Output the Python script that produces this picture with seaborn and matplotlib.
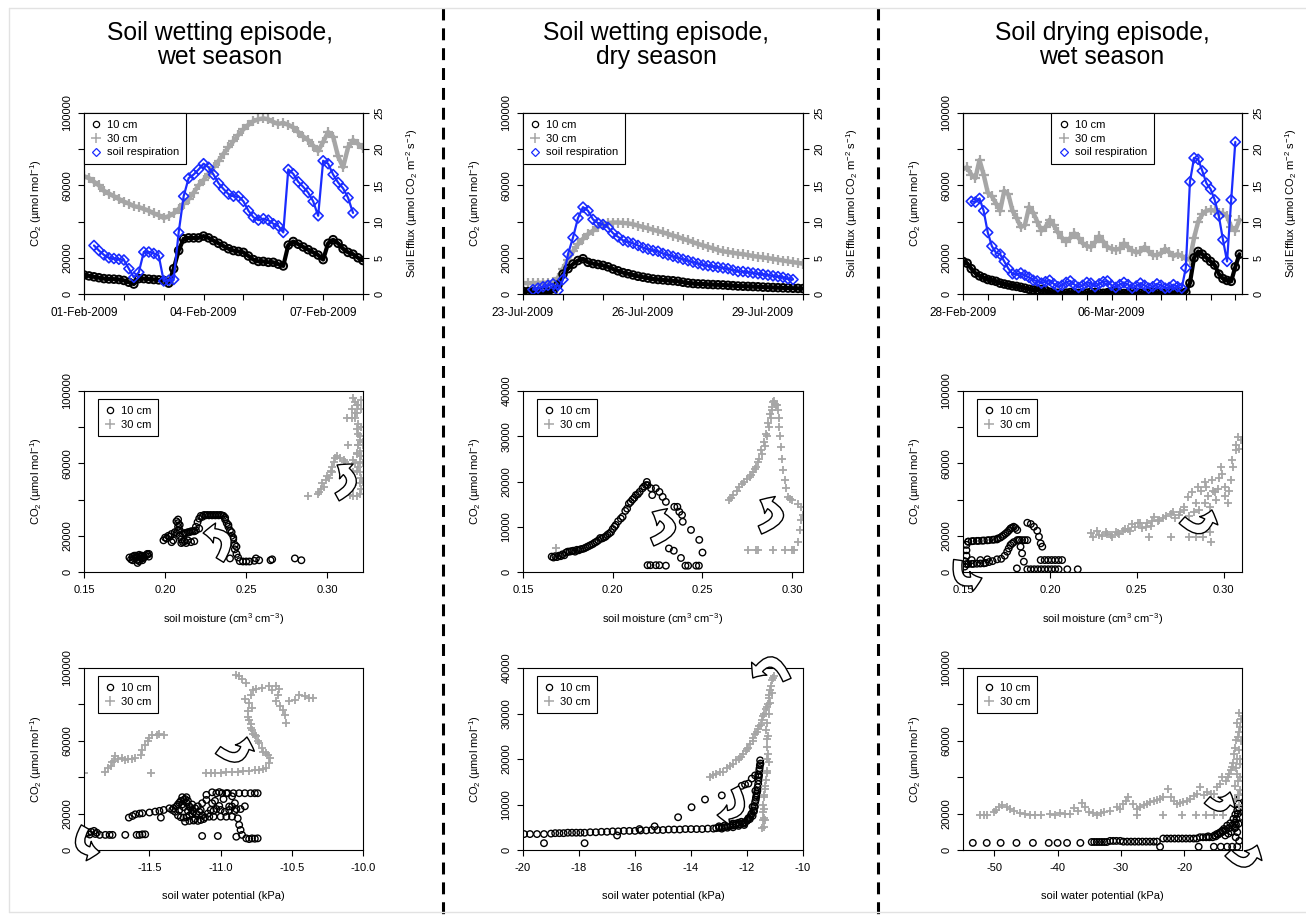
import numpy as np
import pandas as pd
import matplotlib
matplotlib.use("Agg")
import matplotlib.pyplot as plt
import seaborn as sns
from matplotlib.patches import FancyArrowPatch
from matplotlib.lines import Line2D

nan = np.nan

# ---------------- DATA (CO2 in thousands of umol/mol) ----------------
# Top row: time series (3-hourly for left/middle, 4-hourly for right)
tl_start = "2009-02-01"
tl_c10_k = [10.5,10,9.5,9,8.5,8.3,8.2,8, 7.5,6.5,5.5,8.5,8.5,8.2,8,7.8,
            7.5,6,14,24,30.5,31,31,31, 32,31,29.5,28,26.5,25,24,23.5,
            23,21,19,18,18,17.5,17.5,16.5, 15.5,27,29,27.5,26,24.5,23,21.5,
            19,28,30,28,25,23,22,20, 18.5]
tl_c30_k = [65,64,62,60,57,55.5,54,52.5, 51,50,48.5,48,47,46,44.5,43.5,
            42,43,44.5,47,50,52.5,56,60, 63,66.5,70,73.5,77.5,81,84.5,88,
            91,93.5,95.5,96.5,97,96.5,95,94, 94.5,93.5,92,89.5,87,85,82,79,
            84,89.5,87,76,70,81,85,83, 80.5]
tl_resp = [nan,nan,6.7,6.0,5.4,5.0,4.9,4.8, 4.7,3.5,2.3,3.0,5.8,5.8,5.6,5.3,
           1.8,1.9,2.0,8.5,13.5,16,16.5,17.2, 18,17.5,16.5,15.3,14.5,13.8,13.5,13.5,
           12.8,11.5,10.6,10.2,10.4,10.2,9.7,9.4, 8.5,17.2,16.6,15.5,14.8,14,12.8,10.8,
           18.4,18,16.5,15.4,14.6,13.3,11.2,nan, nan]

tm_start = "2009-07-23"
tm_c10_k = [1.5,1.3,1.2,1.2,1.0,1.1,1.5,5, 11,14,16.5,18.5,19.5,17.5,16.8,16.3,
            15.8,15,13.8,12.8,11.8,11.2,10.5,9.8, 9.3,8.8,8.3,8,7.8,7.5,7.3,7,
            6.5,6.1,5.8,5.6,5.5,5.3,5.2,5.1, 5,4.8,4.6,4.4,4.3,4.2,4.1,4,
            3.8,3.7,3.6,3.5,3.4,3.3,3.2,3.1, 3.0]
tm_c30_k = [6,6,6,6.2,6.2,6.3,6.5,9, 14,19,23.5,27.5,30.5,33,35,37,
            38.5,39.2,39.5,39.5,39.3,39,38.5,37.8, 37,36.3,35.5,34.8,34,33.2,32.3,31.5,
            30.5,29.6,28.6,27.7,26.8,26,25.2,24.3, 23.6,23.2,22.8,22.3,22,21.5,21,20.6,
            20.2,19.8,19.4,19,18.5,18,17.6,17.2, 16.8]
tm_resp = [nan,nan,0.6,0.8,1.0,1.2,1.4,0.5, 2.0,5.5,7.8,10.5,12.0,11.5,10.3,9.8,
           9.6,9.2,8.4,7.9,7.4,7.2,7.0,6.7, 6.4,6.2,6.0,5.9,5.6,5.4,5.2,5.0,
           4.8,4.6,4.4,4.2,4.0,3.9,3.8,3.7, 3.6,3.5,3.3,3.1,3.1,3.0,2.9,2.8,
           2.7,2.6,2.5,2.4,2.3,2.1,2.0,nan, nan]

tr_start = "2009-02-28"
tr_c10_k = [18,17,14,11.5,10,9,8,7.5, 7,6,5.5,5,4.5,4.2,3.7,3.2,
            2.6,2.3,2.2,2.5,2.0,1.0,0.7,0.4, 0.3,0.5,0.8,0.6,0.3,0.2,0.5,1.0,
            0.8,0.5,0.4,0.7,1.2,0.9,0.5,0.3, 0.5,1.0,0.7,0.4,0.3,0.6,0.9,0.6,
            0.3,0.3,0.5,0.8,0.6,0.4,1.0,6, 20,23.5,22,20,18,16,11,8.5,
            7.5,7,15,22]
tr_c30_k = [69,70,66,64,74,66,56,54, 50,46,57,55,46,42,37,38,
            48,45,40,35,37,41,38,34, 31,29,31,33.5,31,28,26.5,26,
            28.5,32,29,26,25,24.5,25,28, 26,24,23,23.5,26,23.5,21.5,21.5,
            22.5,25,23,21,22,21,19.5,19, 31,40,44,46,46.5,46,45,44.5,
            43,37,35,41]
tr_resp = [nan,nan,12.8,12.7,13.2,11.5,8.5,6.6, 5.7,5.5,4.5,3.5,2.8,2.7,2.9,2.6,
           2.3,1.9,1.8,1.5,1.7,1.9,1.4,1.0, 1.2,1.6,1.8,1.3,0.9,1.2,1.6,1.5,
           1.0,1.4,1.7,1.8,1.2,0.9,1.3,1.6, 1.3,0.8,1.1,1.5,1.2,0.8,1.0,1.4,
           1.2,0.8,0.9,1.3,1.0,0.8,3.6,15.5, 18.8,18.6,17,15.3,14.5,13,10.8,7.5,
           4.5,13,21,nan]

# Middle row: CO2 vs soil moisture
ml_m10 = [0.178,0.180,0.181,0.182,0.183,0.183,0.184,0.185,0.186,0.187,0.188,0.189,0.190,0.190,0.186,0.184,0.182,0.179,0.180,
          0.181,0.183,0.185,0.187,0.189,0.184,0.186,
          0.199,0.200,0.202,0.204,0.206,0.208,0.208,0.208,0.208,0.209,0.209,0.210,0.210,0.212,0.214,0.216,0.218,0.212,0.214,0.216,0.218,0.205,0.204,
          0.201,0.203,0.207,0.209,0.211,0.213,0.215,0.217,0.219,0.221,0.207,0.211,0.213,
          0.219,0.220,0.221,0.222,0.224,0.225,0.226,0.227,0.228,0.229,0.230,0.231,0.232,0.233,0.234,0.235,0.236,0.237,0.238,0.239,0.240,0.241,0.242,0.243,0.243,0.244,0.245,0.246,0.248,0.250,0.252,0.255,0.256,0.258,0.265,0.266,0.280,0.284,0.240,
          0.223,0.237,0.239,0.241,0.242,0.244]
ml_c10_k = [8.0,8.5,7.5,8.0,6.5,5.0,7.0,8.5,7.5,8.0,9.0,9.5,10.0,8.5,9.0,9.5,9.0,7.0,6.5,
            9,8.5,9,8.5,10,6,6.5,
            17.5,19,20,21,22,23,25,27,29,26,20,18,16,17,17.5,16.5,17,21.5,22,22.5,22.5,17.5,16.5,
            18.5,19.5,21.5,23,21,21.5,22,22.5,23,24,28,16.5,16,
            25,27.5,29.5,31,31.5,31.3,31.5,31.3,31.5,31.3,31.5,31.3,31.5,31.3,31.5,31.3,31,29,27,25,23,20,18,15,12.5,10,8,6,5.8,5.8,5.8,6.2,7.5,6.5,6.5,7.0,7.5,6.5,7.5,
            30.5,30,26,22,19,14]
ml_m30 = [0.316,0.317,0.318,0.318,0.317,0.319,0.318,0.319,0.320,0.319,0.320,0.321,0.320,0.319,0.320,0.321,0.320,0.321,0.320,0.318,0.316,0.314,0.312,0.315,0.313,0.316,0.318,0.322,0.322,0.322,0.321,0.321,
          0.314,0.315,0.316,0.317,0.318,0.319,0.320,0.321,0.315,0.317,0.319,0.321,0.316,0.318,0.320,0.322,
          0.288,0.294,0.296,0.297,0.299,0.300,0.302,0.303,0.304,0.305,0.306,0.308,0.310,0.311,0.295,0.298,0.301,0.303]
ml_c30_k = [96,94,92,88,85,82,79,76,73,70,67,64,61,58,55,52,49,46,43,42,42,42.5,85,90,70,62,66,50,60,70,80,90,
            45,50,55,60,65,70,75,80,85,88,92,95,48,56,64,72,
            42,43,46,49,51,53,56,58,61,63,64,63,62,61,44,47,52,55]

mm_m10 = [0.166,0.168,0.170,0.172,0.174,0.176,0.178,0.180,0.182,0.184,0.186,0.188,0.190,0.192,0.194,0.196,0.198,0.200,0.2017,0.203,0.2055,0.207,0.209,0.211,0.2129,0.215,0.2166,0.2185,0.219,
          0.167,0.169,0.171,0.173,0.175,0.177,0.179,0.181,0.183,0.185,0.187,0.189,0.191,0.193,0.195,0.197,0.199,0.201,0.2045,0.208,0.210,0.212,0.214,0.2175,
          0.2194,0.2213,0.222,0.224,0.226,0.2278,0.2296,0.2343,0.236,0.2371,0.2386,0.239,0.2436,0.2482,0.250,0.2313,0.234,0.238,0.226,0.2194,0.221,0.224,0.2296,0.2405,0.242,0.2465,0.248]
mm_c10_k = [3.4,3.5,3.6,3.9,4.3,4.5,4.7,4.9,5.0,5.2,5.6,6.0,6.5,7.0,7.4,7.8,8.5,9.5,10.4,11.2,12.2,13.5,15.1,16.0,17.0,17.7,18.5,19.2,19.9,
            3.2,3.3,3.5,3.7,4.5,4.6,4.5,4.8,5.1,5.4,5.8,6.2,6.7,7.5,7.6,8.2,8.8,10.0,11.8,14.0,15.5,16.4,17.2,18.9,
            19.2,18.5,17.0,18.5,17.7,16.6,15.5,14.4,14.4,13.3,12.6,11.1,9.3,7.1,4.3,5.2,4.7,3.1,1.5,1.5,1.5,1.5,1.4,1.4,1.4,1.4,1.4]
mm_m30 = [0.265,0.267,0.2706,0.273,0.2762,0.278,0.280,0.2815,0.2827,0.284,0.2855,0.2865,0.2874,0.2885,0.2892,0.290,
          0.266,0.269,0.272,0.275,0.277,0.279,0.281,0.283,0.2848,0.286,0.2868,0.288,0.289,0.2905,0.2915,
          0.291,0.292,0.2925,0.2929,0.2934,0.2938,0.2943,0.2948,0.2957,0.2966,0.2976,0.299,0.300,0.3031,0.305,0.306,0.305,0.3045,0.3031,0.3012,0.300,
          0.2752,0.280,0.281,0.2892,0.296,0.1682]
mm_c30_k = [15.9,17.0,18.8,20.0,21.0,22.0,23.2,25.0,26.9,28.8,30.6,33.0,35.0,36.5,37.6,37.9,
            16.3,17.8,19.4,20.5,21.5,22.8,24.2,26.0,27.8,30.0,32.0,34.0,35.8,37.2,36.8,
            37,35.7,34,32,30,27.6,25,22.5,20.3,18.5,16.6,16.2,15.9,15.1,14.4,12.5,11.5,9.3,6.7,4.9,4.9,
            4.9,4.9,4.9,4.9,4.9,5.2]

mr_m10 = [0.151,0.151,0.152,0.152,0.152,0.153,
          0.155,0.158,0.161,0.164,0.167,0.1696,0.1715,0.1735,0.1755,0.1773,0.1792,0.1812,0.1821,0.1831,0.184,0.185,0.181,
          0.153,0.156,0.159,0.162,0.165,0.168,0.170,0.1725,0.1745,0.1765,0.1782,0.1802,
          0.152,0.155,0.158,0.162,0.165,0.1696,0.172,0.1754,0.1773,0.1792,0.1812,0.184,0.187,
          0.153,0.156,0.160,0.163,0.167,0.174,0.1763,0.1782,0.1826,0.1855,
          0.187,0.189,0.1908,0.1927,0.1937,0.1947,0.1956,0.1947,0.197,0.199,0.201,0.203,0.205,0.207,
          0.187,0.189,0.191,0.193,0.195,0.197,0.199,0.201,0.203,0.205,0.210,0.216,0.155,0.160,0.164]
mr_c10_k = [3,6,9,12,15,16.7,
            17,17.2,17.3,17.5,17.8,18,19,20.4,22,24,25,23.2,17.6,14,10.3,5.7,2,
            16.8,17.1,17.2,17.4,17.6,17.9,18.5,19.7,21.2,23,24.5,24.3,
            4.4,4.5,4.6,4.8,5.5,7,7.3,11.2,14.9,16.5,17.6,17.6,17.6,
            4.4,4.5,4.7,5,6,9,13,15.7,17.6,17.6,
            27.2,26.5,25,22.8,19.5,15.8,14,6.6,6.6,6.6,6.6,6.6,6.6,6.6,
            1.5,1.5,1.5,1.5,1.5,1.5,1.5,1.5,1.5,1.5,1.5,1.5,6.6,6.6,7]
mr_m30 = [0.2236,0.225,0.227,0.230,0.233,0.236,0.238,0.240,0.243,0.246,0.2475,0.2505,0.253,0.256,0.258,0.260,0.262,0.265,0.2697,0.272,0.275,0.2774,0.2794,0.282,0.285,0.289,0.293,
          0.228,0.232,0.235,0.239,0.242,0.245,0.249,0.252,0.255,0.259,0.263,0.267,0.271,0.274,0.277,0.284,0.287,0.290,0.292,0.295,0.297,0.299,0.301,0.303,0.305,0.307,
          0.280,0.283,0.286,0.289,0.291,0.2936,0.2955,0.2966,0.2986,0.3005,0.3024,0.3044,0.3054,0.3073,0.3083,0.3102,0.309,
          0.2928,0.2572,0.2697,0.280,0.284,0.288,0.292]
mr_c30_k = [21.3,19.5,22.5,20,21,19.5,22,21,23.5,22.5,26.5,26.8,24.5,27,25.5,30.5,28,30,32.3,30,33,36,41.5,44,47,49.8,50.7,
            20.5,22,20.5,21.5,22.5,24,25,27,25,28,29,31,33,31.5,34,38,45,47,36,44,52,54,42,45,62,70,
            31,33,34,38,42,45,40,46,58,47,37.9,50.7,58,67.3,74.6,72.8,68,
            16.7,19.1,19.1,19.1,19.1,19.1,22]

# Bottom row: CO2 vs soil water potential (kPa)
bl_p10 = [-11.95,-11.93,-11.91,-11.89,-11.87,-11.92,-11.88,
          -11.85,-11.81,-11.78,-11.76,-11.67,-11.59,-11.57,-11.55,-11.53,-11.13,-11.02,-10.89,-10.82,-10.80,-10.78,-10.76,-10.74,
          -11.645,-11.62,-11.6,-11.57,-11.55,-11.5,-11.46,-11.43,-11.40,-11.36,-11.42,
          -11.33,-11.30,-11.28,-11.27,-11.25,-11.24,-11.22,-11.20,-11.18,-11.16,-11.14,-11.30,-11.28,-11.26,-11.24,-11.22,-11.20,-11.18,-11.16,-11.14,-11.12,-11.25,-11.22,-11.19,-11.32,-11.29,-11.26,-11.23,-11.2,
          -11.34,-11.31,-11.29,-11.27,-11.26,-11.24,-11.23,-11.21,-11.19,-11.17,-11.15,-11.13,-11.11,-11.09,-11.07,-11.05,-11.03,-11.0,-10.97,-10.94,-10.89,-10.86,
          -11.13,-11.10,-11.06,-11.01,-10.96,-10.92,-10.90,-10.94,-11.01,-11.06,-11.10,-11.04,-10.98,
          -11.03,-10.99,-10.95,-10.91,-10.87,-10.83,-10.79,-10.76,-10.74,
          -10.92,-10.90,-10.88,-10.87,-10.86,-10.85,-10.83,
          -11.08,-11.05,-11.0,-10.96,-10.92]
bl_c10_k = [9,9.5,10,10.5,9.5,8.5,8.8,
            8.3,8.3,8.3,8.3,8.3,8.3,8.3,8.6,8.6,7.7,7.7,7.3,6.4,6.0,6.4,6.2,6.4,
            17.8,18.7,19.6,20,20.2,20.6,21.1,21.5,22,22.9,17.8,
            23,25,27,29,28,26,24,22,23,24,22,19,18,17.8,18,19,20,17,16,16.5,17,15.6,16,16.2,21,22,23.5,21.5,25,
            22,24,26,25,27.5,29,27,23,21,20,21,19,18,20,22,21.5,22.5,22,21,22,22.5,22.5,
            25.7,30.3,31.7,31.8,31.2,29.5,25.7,23.9,24.2,25.7,27.5,27,28,
            31.2,31.2,31.2,31.2,31.2,31.2,31.2,31.2,31.2,
            23.9,21.5,17.4,13.8,11,8.3,24,
            18.3,18.3,18.3,18.3,18.3]
bl_p30 = [-11.96,-11.81,-11.79,-11.76,-11.74,-11.72,-11.69,-11.67,-11.65,-11.62,-11.60,-11.56,-11.55,-11.53,-11.51,-11.50,-11.48,-11.45,-11.43,-11.40,-11.49,-11.77,-11.75,
          -11.10,-11.07,-11.04,-11.00,-10.96,-10.92,-10.88,-10.84,-10.80,-10.76,-10.73,-10.70,-10.68,-10.66,-10.65,-10.67,-10.68,-10.71,-10.73,-10.75,-10.77,-10.78,-10.79,-10.80,-10.81,-10.80,-10.79,-10.82,-10.85,-10.87,-10.89,
          -10.77,-10.75,-10.71,-10.66,-10.61,-10.59,-10.60,-10.61,-10.58,-10.55,-10.54,-10.56,-10.52,-10.48,-10.45,-10.41,-10.38,-10.35,
          -10.74,-10.76,-10.79,-10.81,-10.78,-10.83,-10.70,-10.64]
bl_c30_k = [42.2,42.6,45,48.6,51.4,50,50.5,49.5,50,50,50.5,52.3,55,57.8,60,61.5,63.3,63,63.9,63.3,42.2,46,49,
            42.2,42.2,42.2,42.4,42.6,42.8,43,43.3,43.5,43.7,43.7,44.5,45,47.7,50.5,52,53.2,56,58.7,62.4,64,66,69,71.6,76.1,80.7,85.3,91.7,94,95.4,96.3,
            88.1,88.5,89,89.9,89.9,88.5,85.3,81.7,78.9,74.3,69.7,77,81.7,82.6,85.3,84.4,83.5,83.5,
            60,63,67,73,78,83,54,88]

bm_p10 = [-19.96,-19.75,-19.5,-19.25,-19.0,-18.85,-18.7,-18.55,-18.4,-18.25,-18.1,-17.95,-17.8,-17.6,-17.4,-17.2,-17.0,-16.8,-16.6,-16.4,-16.2,-16.0,-15.8,-15.6,-15.4,-15.2,-15.0,-14.8,-14.6,-14.4,-14.2,-14.0,-13.8,-13.6,-13.4,-13.2,
          -19.25,-17.8,-16.64,-15.84,-15.3,-14.46,-13.98,-13.5,-12.9,-12.19,-12.07,-11.95,-11.83,-11.71,
          -13.1,-13.0,-12.9,-12.8,-12.7,-12.6,-12.5,-12.4,-12.3,-12.25,-12.15,-12.07,-11.98,-11.89,-11.83,-11.77,-11.74,-11.71,-11.68,-11.65,-11.62,-11.59,-11.57,-11.56,-11.54,-11.53,-12.5,-12.3,-12.1,-11.95,-11.8,-11.7,-11.6,-11.85,
          -13.0,-12.8,-12.6,-12.4,-12.2,-12.0,-11.9,-11.8,-11.75,-11.72,-11.69,-11.66,-11.63,-11.6,-11.58,-11.55,-11.52,-12.9,-12.7,-12.5,-12.3,-12.1]
bm_c10_k = [3.5,3.5,3.5,3.5,3.6,3.7,3.7,3.7,3.8,3.8,3.8,3.8,3.8,3.9,3.9,4.0,4.0,4.1,4.1,4.2,4.2,4.2,4.3,4.3,4.4,4.4,4.4,4.5,4.5,4.5,4.6,4.6,4.6,4.6,4.7,4.7,
            1.5,1.5,3.2,4.6,5.2,7.2,9.4,11.1,12,14.1,14.4,14.6,15.7,16.4,
            4.8,4.9,5.0,5.0,5.2,5.3,5.4,5.5,5.6,5.7,5.9,6.1,6.6,7.2,8,8.7,9.6,10.5,11.5,12.4,13.8,15.3,16.5,17.5,18.6,19.7,5.8,6.0,5.5,7.0,9.5,13,16.5,7.8,
            5.2,5.4,5.6,5.8,6.2,6.4,6.8,7.5,8.5,9.5,11,12,13,14.5,16,18,19,4.7,4.9,5.0,5.3,5.8]
bm_p30 = [-13.33,-13.1,-12.85,-12.7,-12.49,-12.3,-12.13,-12.0,-11.89,-11.77,-11.65,-11.56,-11.47,-11.38,-11.29,-11.23,-11.17,-11.11,-11.05,-11.08,
          -13.2,-12.95,-12.6,-12.4,-12.2,-12.05,-11.95,-11.8,-11.7,-11.6,-11.5,-11.42,-11.33,-11.25,-11.2,-11.14,
          -11.11,-11.17,-11.23,-11.28,-11.32,-11.3,-11.29,-11.26,-11.23,-11.28,-11.32,-11.36,-11.39,-11.42,-11.44,-11.43,-11.41,-11.35,-11.47,
          -11.25,-11.27,-11.3,-11.34,-11.38,-11.4,-11.4]
bm_c30_k = [16.1,16.6,17.2,18,19,20,21.2,22.2,23.4,24.7,26,27.3,28.6,30,31.5,33.3,35.2,37.4,38.2,37.8,
            16.5,17.2,18.5,19.8,20.5,21.8,22.5,24,25.5,26.5,27.5,29.5,31,32,34,36,
            34.5,32.2,30,28,26.4,24.5,22.7,21,19.4,17.3,15.3,13.4,11.6,10,8.3,6.6,5,6.5,4.8,
            25,20,17,14,12,9,7]

br_p10 = [-53.4,-51.2,-49,-46.5,-43.9,-41.4,-40,-38.5,-36.4,
          -34.6,-34.2,-33.8,-33.4,-33.0,-32.6,-32.2,-31.7,-31.2,-30.7,-30.1,-29.6,-29.0,-28.4,-27.8,-27.2,-26.6,-26.0,-25.4,-24.8,-24.3,-23.8,-23.3,-22.7,-22.1,-21.5,-20.9,-20.3,-19.7,-19.1,-18.5,-18.0,-17.5,-17.0,-16.5,-16.0,-15.5,-15.0,-14.8,-14.4,-14.0,-13.7,-13.2,-12.7,-12.2,-11.9,-11.6,-11.4,-11.2,-13.5,-13.0,-12.5,-12.0,-11.8,
          -16.2,-15.2,-14.6,-14.2,-13.9,-13.4,-12.9,-12.4,-12.0,-11.7,-11.5,-11.3,
          -17.7,-15.3,-14.2,-13.2,-12.4,-11.6,-11.85,-11.6,-11.4,-11.85,-11.3,-11.2]
br_c10_k = [3.9,3.9,3.9,3.9,3.9,3.9,3.9,3.9,3.9,
            4.4,4.4,4.4,4.4,4.4,4.4,4.4,5,5,5,5,4.6,4.6,4.6,4.6,4.6,4.6,4.6,4.6,4.6,4.6,1.8,6.3,6.3,6.3,6.3,6.3,6.3,6.3,6.3,6.3,6.3,7,7,7,7,7,7.5,8.8,9.5,10.5,11.6,13.4,14.7,17.1,19.5,21.7,25.4,29,8,9,10,12,14,
            7.5,8,8.5,9.5,10,11,12,13.5,15,17,20,23,
            1.8,1.8,1.8,1.8,1.8,1.8,7,9.8,14.4,12.5,5,18]
br_p30 = [-52.2,-51.2,-50.1,-49.3,-48.8,-48,-46.9,-45.9,-44.3,-42.7,-41.2,-39.6,-38,-36.8,-36.1,-35.6,-35,-33.8,-32.7,-31.7,-30.6,-29.6,-28.8,-28.1,-27.5,-26.4,-25.4,-24.3,-23.3,-22.5,-22,-21.2,-20.1,-19,-18,-17.5,-16.9,-15.8,-14.8,-14,-13.4,-12.9,-12.4,-12.1,-11.8,-11.6,-11.3,-11.1,-11.6,-11.1,-11.4,-11.2,-11.4,-11.0,
          -12.0,-11.8,-11.5,-11.2,-11.7,-11.3,-11.05,-11.5,-11.9,-11.3,
          -51.7,-49.7,-47.5,-45.1,-43.5,-40.4,-38.8,-37.4,-34.4,-33.2,-30.1,-29.2,-26.9,-25.9,-24.8,-23.8,-21.6,-20.6,-19.5,-18.5,-16.4,-15.3,-14.4,-13.1,-12.6,-12.25,-11.95,-11.45,-11.15,
          -27.5,-23.3,-20.4,-18.2,-16.6,-15.3,-13.9]
br_c30_k = [19,19,20.8,23.6,25,23.6,21.4,20.3,19.5,19,19.9,20.3,19.9,21.7,25.8,23.5,20.8,19.5,20.8,21.7,23.6,25.4,29.1,25.5,22.7,24.5,26.3,27.3,29.1,33.7,29,25.4,26.3,28.2,30.9,34.6,30,30.9,34.6,40.1,38,42,45.7,53,60.4,69.6,75.1,67.8,42,33,25,50,55,60,
            35,45,38,40,50,65,72,30,28,30,
            19.5,22,22.5,20,19.2,19.5,20,23,20.2,20.3,22.5,27,23.5,25.5,26.8,28,27,25.8,27,29.5,32,31,36,40,44,48,56,62,47,
            19.5,19.5,19.5,19.5,19.5,19.5,19.5]

col_titles = ["Soil wetting episode,\nwet season", "Soil wetting episode,\ndry season",
              "Soil drying episode,\nwet season"]

# ---------------- STYLE ----------------
sns.set_theme(style="white")
plt.rcParams["font.family"] = ["Liberation Sans", "DejaVu Sans"]
plt.rcParams["axes.unicode_minus"] = False
plt.rcParams["mathtext.fontset"] = "custom"
plt.rcParams["mathtext.rm"] = "Liberation Sans"
plt.rcParams["text.color"] = "black"
plt.rcParams["axes.labelcolor"] = "black"

W, H = 1306, 917
fig = plt.figure(figsize=(W / 100, H / 100), dpi=100)
fig.patch.set_facecolor("white")

GRAY = "#a6a6a6"
BLUE = "#1a2cff"
# top row: dense bands (markers plus a joining trace underneath)
T10 = dict(marker="o", s=30, facecolor="none", edgecolor="black", linewidth=1.4)
T30 = dict(marker="+", s=48, color=GRAY, linewidth=1.6)
TRESP = dict(marker="D", s=26, facecolor="none", edgecolor=BLUE, linewidth=1.2)
# scatter rows
C10 = dict(marker="o", s=22, facecolor="none", edgecolor="black", linewidth=1.0)
C30 = dict(marker="+", s=38, color=GRAY, linewidth=1.3)

co2_label = "CO$\\mathregular{_2}$ (µmol mol$\\mathregular{^{-1}}$)"
eff_label = "Soil Efflux (µmol CO$\\mathregular{_2}$ m$\\mathregular{^{-2}}$ s$\\mathregular{^{-1}}$)"

cols = [(84, 363), (523, 803), (963, 1242)]
rows = [(113, 294), (391, 572), (668, 850)]


def px_axes(c, r):
    x0, x1 = cols[c]
    y0, y1 = rows[r]
    return fig.add_axes([x0 / W, 1 - y1 / H, (x1 - x0) / W, (y1 - y0) / H])


def style(ax):
    for s in ax.spines.values():
        s.set_visible(True)
        s.set_color("black")
        s.set_linewidth(0.8)
    ax.grid(False)
    ax.tick_params(direction="out", length=4.3, width=0.8, colors="black",
                   labelsize=8, bottom=True, left=True)
    ax.tick_params(axis="x", pad=5)
    ax.tick_params(axis="y", pad=4)


def yticks(ax, ticks, shown):
    labels = [str(t) if t in shown else "" for t in ticks]
    ax.set_yticks(ticks, labels, rotation=90, va="center")


def legend(ax, with_resp, loc="upper left", anchor=(0, 1)):
    hs = [Line2D([], [], marker="o", ls="none", mfc="none", mec="black", ms=4.5, mew=0.9, label="10 cm"),
          Line2D([], [], marker="+", ls="none", color=GRAY, ms=6.5, mew=1.1, label="30 cm")]
    if with_resp:
        hs.append(Line2D([], [], marker="D", ls="none", mfc="none", mec=BLUE, ms=4.2, mew=0.9,
                         label="soil respiration"))
    leg = ax.legend(handles=hs, loc=loc, bbox_to_anchor=anchor, borderaxespad=0, frameon=True,
                    fancybox=False, edgecolor="black", framealpha=1, fontsize=8,
                    handlelength=1.0, handletextpad=0.5, borderpad=0.6, labelspacing=0.35)
    leg.get_frame().set_linewidth(0.8)
    leg.set_zorder(20)


def arrow(ax, tail, head, rad):
    a = FancyArrowPatch(tail, head, transform=ax.transAxes,
                        connectionstyle=f"arc3,rad={rad}",
                        arrowstyle="simple,head_length=0.9,head_width=1.6,tail_width=0.7",
                        mutation_scale=9, fc="white", ec="black", lw=1.0,
                        clip_on=False, zorder=15, shrinkA=0, shrinkB=0)
    ax.add_patch(a)


# ---------------- TOP ROW ----------------
top_sets = [(tl_start, "3h", tl_c10_k, tl_c30_k, tl_resp, 7.0, [0, 3, 6], "upper left", (0, 1)),
            (tm_start, "3h", tm_c10_k, tm_c30_k, tm_resp, 7.0, [0, 3, 6], "upper left", (0, 1)),
            (tr_start, "4h", tr_c10_k, tr_c30_k, tr_resp, 11.27, [0, 6], "upper center", (0.5, 1))]

for c, (start, freq, c10, c30, resp, span, lab_days, lloc, lanc) in enumerate(top_sets):
    ax = px_axes(c, 0)
    t = pd.date_range(start, periods=len(c10), freq=freq)
    df = pd.DataFrame({"time": t, "c10": np.array(c10) * 1000, "c30": np.array(c30) * 1000,
                       "resp": resp})
    sns.lineplot(data=df, x="time", y="c30", ax=ax, color=GRAY, lw=3.2, sort=False,
                 estimator=None, zorder=1)
    sns.scatterplot(data=df, x="time", y="c30", ax=ax, zorder=2, **T30)
    sns.lineplot(data=df, x="time", y="c10", ax=ax, color="black", lw=3.0, sort=False,
                 estimator=None, zorder=3)
    sns.scatterplot(data=df, x="time", y="c10", ax=ax, zorder=4, **T10)
    t0 = pd.Timestamp(start)
    ax.set_xlim(t0, t0 + pd.Timedelta(days=span))
    ax.set_ylim(0, 100000)
    style(ax)
    ndays = int(np.floor(span))
    ticks = [t0 + pd.Timedelta(days=d) for d in range(ndays + 1)]
    ax.set_xticks(ticks, [tk.strftime("%d-%b-%Y") if d in lab_days else ""
                          for d, tk in enumerate(ticks)], fontsize=8.5)
    yticks(ax, [0, 20000, 40000, 60000, 80000, 100000], [0, 20000, 60000, 100000])
    ax.set_xlabel("")
    ax.set_ylabel(co2_label, fontsize=8)
    ax.yaxis.set_label_coords(-40 / 279, 0.5)

    ax2 = ax.twinx()
    sns.lineplot(data=df, x="time", y="resp", ax=ax2, color=BLUE, lw=1.6, sort=False,
                 estimator=None, zorder=1)
    sns.scatterplot(data=df, x="time", y="resp", ax=ax2, zorder=2, **TRESP)
    ax2.set_ylim(0, 25)
    ax2.set_xlim(t0, t0 + pd.Timedelta(days=span))
    style(ax2)
    ax2.tick_params(axis="y", right=True, left=False, labelright=True, labelleft=False)
    ax2.set_yticks([0, 5, 10, 15, 20, 25], ["0", "5", "10", "15", "20", "25"], rotation=90, va="center")
    ax2.set_ylabel(eff_label, fontsize=8)
    ax2.yaxis.set_label_coords(1 + 41 / 279, 0.5)
    ax2.set_xlabel("")
    legend(ax2, True, lloc, lanc)

# ---------------- MIDDLE ROW ----------------
mid_sets = [(ml_m10, ml_c10_k, ml_m30, ml_c30_k, (0.15, 0.322), (0, 100000)),
            (mm_m10, mm_c10_k, mm_m30, mm_c30_k, (0.15, 0.306), (0, 40000)),
            (mr_m10, mr_c10_k, mr_m30, mr_c30_k, (0.15, 0.3105), (0, 100000))]
mid_axes = []
for c, (m10, c10, m30, c30, xl, yl) in enumerate(mid_sets):
    ax = px_axes(c, 1)
    sns.scatterplot(x=np.array(m10), y=np.array(c10) * 1000, ax=ax, **C10)
    sns.scatterplot(x=np.array(m30), y=np.array(c30) * 1000, ax=ax, **C30)
    ax.set_xlim(*xl)
    ax.set_ylim(*yl)
    style(ax)
    ax.set_xticks([0.15, 0.20, 0.25, 0.30], ["0.15", "0.20", "0.25", "0.30"])
    if yl[1] == 100000:
        yticks(ax, [0, 20000, 40000, 60000, 80000, 100000], [0, 20000, 60000, 100000])
    else:
        yticks(ax, [0, 10000, 20000, 30000, 40000], [0, 10000, 20000, 30000, 40000])
    ax.set_xlabel("soil moisture (cm$\\mathregular{^3}$ cm$\\mathregular{^{-3}}$)", fontsize=8)
    ax.xaxis.set_label_coords(0.5, -39 / 181)
    ax.set_ylabel(co2_label, fontsize=8)
    ax.yaxis.set_label_coords(-40 / 279, 0.5)
    legend(ax, False, "upper left", (0.05, 0.955))
    mid_axes.append(ax)

# ---------------- BOTTOM ROW ----------------
bot_sets = [(bl_p10, bl_c10_k, bl_p30, bl_c30_k, (-11.96, -10.0), (0, 100000),
             [-11.5, -11.0, -10.5, -10.0], ["-11.5", "-11.0", "-10.5", "-10.0"]),
            (bm_p10, bm_c10_k, bm_p30, bm_c30_k, (-20, -10), (0, 40000),
             [-20, -18, -16, -14, -12, -10], ["-20", "-18", "-16", "-14", "-12", "-10"]),
            (br_p10, br_c10_k, br_p30, br_c30_k, (-54.95, -10.85), (0, 100000),
             [-50, -40, -30, -20], ["-50", "-40", "-30", "-20"])]
bot_axes = []
for c, (p10, c10, p30, c30, xl, yl, xt, xtl) in enumerate(bot_sets):
    ax = px_axes(c, 2)
    sns.scatterplot(x=np.array(p10), y=np.array(c10) * 1000, ax=ax, **C10)
    sns.scatterplot(x=np.array(p30), y=np.array(c30) * 1000, ax=ax, **C30)
    ax.set_xlim(*xl)
    ax.set_ylim(*yl)
    style(ax)
    ax.set_xticks(xt, xtl)
    if yl[1] == 100000:
        yticks(ax, [0, 20000, 40000, 60000, 80000, 100000], [0, 20000, 60000, 100000])
    else:
        yticks(ax, [0, 10000, 20000, 30000, 40000], [0, 10000, 20000, 30000, 40000])
    ax.set_xlabel("soil water potential (kPa)", fontsize=8)
    ax.xaxis.set_label_coords(0.5, -41 / 182)
    ax.set_ylabel(co2_label, fontsize=8)
    ax.yaxis.set_label_coords(-40 / 279, 0.5)
    legend(ax, False, "upper left", (0.05, 0.955))
    bot_axes.append(ax)

# ---------------- Curved hysteresis arrows ----------------
arrow(mid_axes[0], (0.487, 0.066), (0.427, 0.215), 1.0)
arrow(mid_axes[0], (0.907, 0.414), (0.907, 0.591), 0.9)
arrow(mid_axes[1], (0.461, 0.166), (0.461, 0.331), 1.2)
arrow(mid_axes[1], (0.846, 0.232), (0.846, 0.398), 1.2)
arrow(mid_axes[2], (-0.018, 0.066), (0.068, -0.033), 0.9)
arrow(mid_axes[2], (0.785, 0.287), (0.892, 0.343), 0.9)
arrow(bot_axes[0], (0.004, 0.126), (0.057, -0.011), 0.9)
arrow(bot_axes[0], (0.48, 0.549), (0.584, 0.621), 0.9)
arrow(bot_axes[1], (0.943, 0.934), (0.821, 0.945), 1.0)
arrow(bot_axes[1], (0.757, 0.341), (0.693, 0.192), -0.9)
arrow(bot_axes[2], (0.875, 0.275), (0.957, 0.319), 0.9)
arrow(bot_axes[2], (0.95, -0.016), (1.054, 0.027), 0.9)

# ---------------- Titles, separators, frame ----------------
for cx, title in zip([220, 656, 1102], col_titles):
    fig.text(cx / W, 1 - 45 / H, title, ha="center", va="center", fontsize=17.8,
             linespacing=1.05, color="black")

for xs in [443, 878]:
    fig.add_artist(Line2D([xs / W, xs / W], [1 - 8 / H, 0], transform=fig.transFigure,
                          color="black", lw=2.2, dashes=(3.9, 2.6)))

frame_c = "#e2e2e2"
fig.add_artist(Line2D([9 / W, 9 / W], [1 - 8 / H, 1 - 912 / H], transform=fig.transFigure, color=frame_c, lw=1))
fig.add_artist(Line2D([9 / W, 1], [1 - 8 / H, 1 - 8 / H], transform=fig.transFigure, color=frame_c, lw=1))
fig.add_artist(Line2D([9 / W, 1], [1 - 912 / H, 1 - 912 / H], transform=fig.transFigure, color=frame_c, lw=1))

fig.savefig("out.png", dpi=100, facecolor="white")
